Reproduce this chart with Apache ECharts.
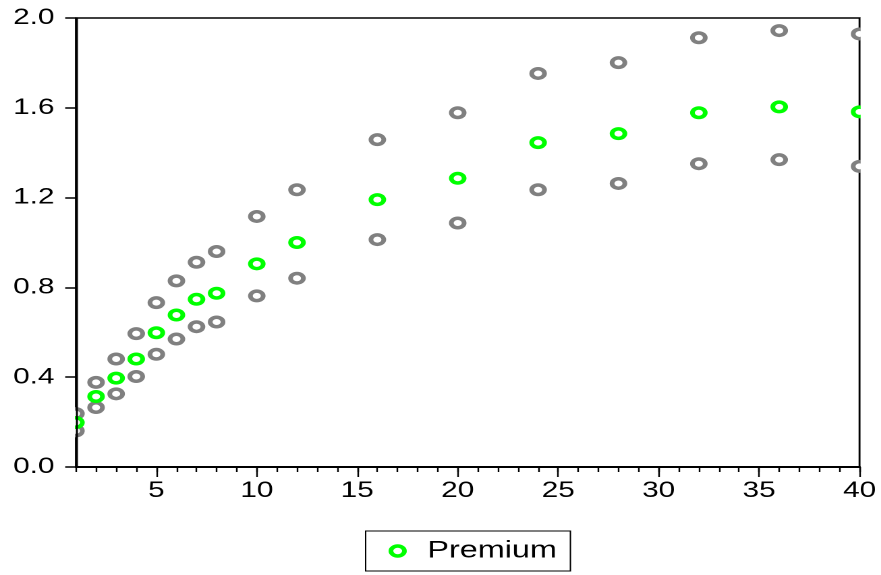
<!DOCTYPE html>
<html>
<head>
<meta charset="utf-8">
<script src="https://cdn.jsdelivr.net/npm/echarts@6/dist/echarts.min.js"></script>
<style>
  html, body { margin: 0; padding: 0; background: #fff; overflow: hidden; }
  /* the reference is stretched sideways, so draw narrower and stretch it */
  #chart { width: 653px; height: 575px; transform: scaleX(1.3492); transform-origin: 0 0; }
</style>
</head>
<body>
<div id="chart"></div>
<script>
// horizon values on the x axis
var horizons = [1, 2, 3, 4, 5, 6, 7, 8, 10, 12, 16, 20, 24, 28, 32, 36, 40]
// Premium estimate (green) and the grey upper / lower bands
var premium = [0.198, 0.314, 0.396, 0.481, 0.598, 0.677, 0.747, 0.774, 0.905, 1.000, 1.191, 1.286, 1.445, 1.485, 1.578, 1.604, 1.582]
var upper = [0.238, 0.377, 0.481, 0.594, 0.732, 0.829, 0.912, 0.960, 1.116, 1.235, 1.458, 1.578, 1.753, 1.801, 1.912, 1.944, 1.929]
var lower = [0.161, 0.265, 0.326, 0.403, 0.502, 0.570, 0.625, 0.646, 0.762, 0.841, 1.013, 1.087, 1.235, 1.263, 1.351, 1.369, 1.339]
var xLabelTicks = [5, 10, 15, 20, 25, 30, 35, 40]

var W = 653, H = 575
var gridLeft = 56.3, gridRight = 15.9, gridTop = 18, gridBottom = 108
var font = 'Liberation Sans, Arial, sans-serif'

function pairs(vals) {
  return horizons.map(function (x, i) { return [x, vals[i]] })
}

function ring(name, color, vals) {
  return {
    name: name,
    type: 'scatter',
    z: 1,
    symbol: 'circle',
    symbolSize: 9.5,
    itemStyle: { color: '#fff', borderColor: color, borderWidth: 3.5, opacity: 1 },
    emphasis: { disabled: true },
    data: pairs(vals)
  }
}

var chart = echarts.init(document.getElementById('chart'), null, { renderer: 'canvas', devicePixelRatio: 2 })

var option = {
  animation: false,
  backgroundColor: '#fff',
  textStyle: { fontFamily: font },
  grid: [
    {
      left: gridLeft, right: gridRight, top: gridTop, bottom: gridBottom,
      show: true, borderColor: '#000', borderWidth: 1.5, backgroundColor: '#fff'
    },
    // same box again, only carries the longer ticks every 5 periods
    { left: gridLeft, right: gridRight, top: gridTop, bottom: gridBottom, show: false }
  ],
  legend: {
    data: ['Premium'],
    left: 271, top: 531,
    padding: [8, 10, 8, 17],
    borderColor: '#000', borderWidth: 1,
    itemWidth: 34, itemHeight: 10,
    icon: 'circle',
    itemStyle: { color: '#fff', borderColor: '#00ff00', borderWidth: 3.5 },
    textStyle: { fontSize: 24, color: '#000', fontFamily: font },
    selectedMode: false
  },
  xAxis: [
    {
      type: 'value', gridIndex: 0, min: 1, max: 40, interval: 1, z: 10, position: 'bottom',
      axisLine: { show: true, lineStyle: { color: '#000', width: 2 } },
      axisTick: { show: true, length: 5, lineStyle: { color: '#000', width: 1.2 } },
      axisLabel: {
        show: true, fontSize: 22, color: '#000', margin: 13, fontFamily: font, hideOverlap: false,
        formatter: function (v) { return xLabelTicks.indexOf(v) >= 0 ? String(v) : '' }
      },
      splitLine: { show: false }
    },
    {
      type: 'value', gridIndex: 1, min: 1, max: 40, z: 10, position: 'bottom',
      axisLine: { show: false },
      axisTick: { show: true, customValues: xLabelTicks, length: 10, lineStyle: { color: '#000', width: 1.2 } },
      axisLabel: { show: false, customValues: xLabelTicks },
      splitLine: { show: false }
    }
  ],
  yAxis: [
    {
      type: 'value', gridIndex: 0, min: 0, max: 2, interval: 0.4, z: 10,
      axisLine: { show: true, lineStyle: { color: '#000', width: 1.5 } },
      axisTick: { show: true, length: 8, lineStyle: { color: '#000', width: 1.5 } },
      axisLabel: {
        fontSize: 22, color: '#000', margin: 16, fontFamily: font,
        formatter: function (v) { return v.toFixed(1) }
      },
      splitLine: { show: false }
    },
    { type: 'value', gridIndex: 1, min: 0, max: 2, show: false }
  ],
  // white strips just outside the plot so the edge rings look cut by the frame
  graphic: [
    { type: 'rect', z: 2, silent: true, shape: { x: gridLeft - 12, y: gridTop, width: 11.2, height: H - gridTop - gridBottom }, style: { fill: '#fff' } },
    { type: 'rect', z: 2, silent: true, shape: { x: W - gridRight + 0.8, y: gridTop, width: 12, height: H - gridTop - gridBottom }, style: { fill: '#fff' } }
  ],
  series: [
    ring('Upper', '#808080', upper),
    ring('Lower', '#808080', lower),
    ring('Premium', '#00ff00', premium)
  ]
}

chart.setOption(option)
</script>
</body>
</html>
